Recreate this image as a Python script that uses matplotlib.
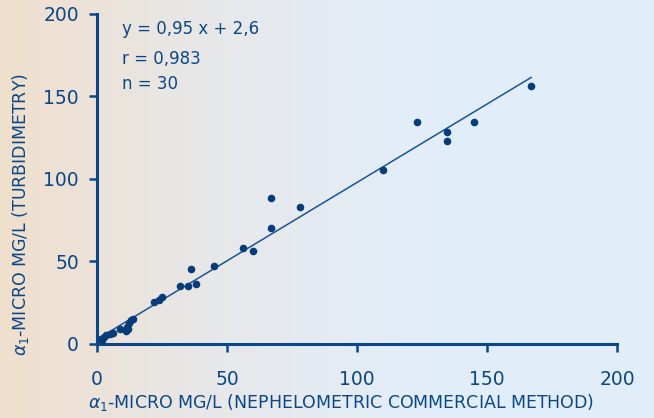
import numpy as np
import matplotlib
matplotlib.use('Agg')
import matplotlib.pyplot as plt
from matplotlib.colors import LinearSegmentedColormap

# nephelometric (x) vs turbidimetric (y), mg/L
neph = [1.4, 2.0, 2.6, 3.5, 5.0, 6.0, 9.0, 11.0, 12.0, 11.5, 12.2, 13.0, 14.0,
        22.0, 24.0, 25.0, 32.0, 35.0, 36.0, 38.0, 45.0, 56.0, 60.0, 67.0, 67.0,
        78.0, 110.0, 123.0, 134.5, 134.5, 145.0, 167.0]
turb = [2.7, 2.0, 4.0, 5.0, 6.0, 6.5, 8.5, 7.8, 8.5, 10.0, 12.6, 14.0, 15.0,
        25.0, 26.5, 28.0, 35.0, 35.0, 45.0, 36.0, 47.0, 58.0, 56.0, 70.0, 88.0,
        83.0, 105.0, 134.0, 128.0, 123.0, 134.0, 156.0]
slope = 0.95
intercept = 2.6
stats = ['y = 0,95 x + 2,6', 'r = 0,983', 'n = 30']
ticks = [0, 50, 100, 150, 200]

blue = '#0b4786'
fig = plt.figure(figsize=(6.54, 4.18), dpi=100)

# background gradient peach -> light blue
bg = fig.add_axes([0, 0, 1, 1], zorder=-1)
cmap = LinearSegmentedColormap.from_list('bg', ['#f0dfcd', '#e7e8ea', '#e2eefa', '#e1eefb'])
grad = np.linspace(0, 1, 256).reshape(1, -1)
bg.imshow(grad, aspect='auto', cmap=cmap, extent=[0, 1, 0, 1])
bg.axis('off')

ax = fig.add_axes([0.1483, 0.1782, 0.7951, 0.7895])
ax.set_facecolor('none')
ax.set_xlim(0, 200)
ax.set_ylim(0, 200)

xs = np.array([min(neph), max(neph)])
ax.plot(xs, slope * xs + intercept, color='#1a5494', lw=1.1)
ax.scatter(neph, turb, s=20, color='#083c78', zorder=3, clip_on=False)

for side in ['top', 'right']:
    ax.spines[side].set_visible(False)
for side in ['left', 'bottom']:
    ax.spines[side].set_color(blue)
    ax.spines[side].set_linewidth(2.2)

ax.set_xticks(ticks)
ax.set_yticks(ticks)
ax.tick_params(direction='out', length=6, width=1.8, color=blue,
               labelcolor=blue, labelsize=13.5)
ax.tick_params(axis='x', pad=13)
ax.tick_params(axis='y', pad=7)

ax.set_xlabel(r'$\alpha_1$-MICRO MG/L (NEPHELOMETRIC COMMERCIAL METHOD)',
              color=blue, fontsize=12.5, va='center')
ax.xaxis.set_label_coords(0.469, -0.178)
ax.set_ylabel(r'$\alpha_1$-MICRO MG/L (TURBIDIMETRY)',
              color=blue, fontsize=12.5, va='center')
ax.yaxis.set_label_coords(-0.148, 0.39)

for txt, yy in zip(stats, [0.953, 0.862, 0.786]):
    ax.text(0.048, yy, txt, transform=ax.transAxes, color=blue,
            fontsize=12, va='center', ha='left')

plt.savefig('out.png', dpi=100)
